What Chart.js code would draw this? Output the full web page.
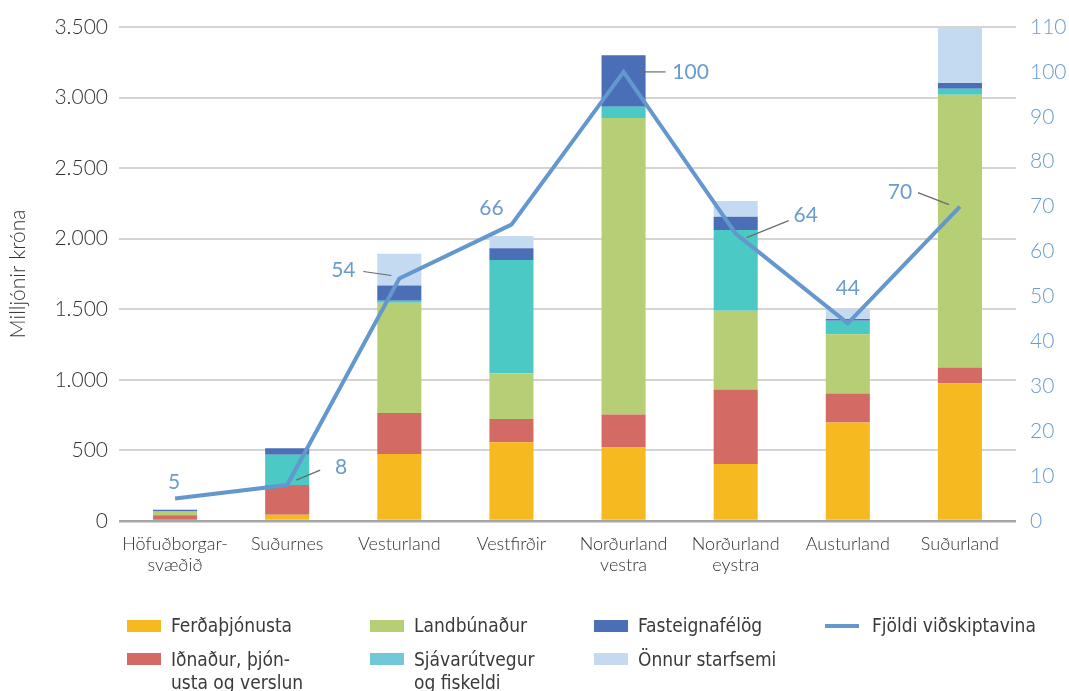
<!DOCTYPE html>
<html>
<head>
<meta charset="utf-8">
<script src="https://cdn.jsdelivr.net/npm/chart.js@4.4.1/dist/chart.umd.min.js"></script>
<style>
  html, body { margin: 0; padding: 0; background: #fff; }
  #wrap { position: relative; width: 1069px; height: 691px; overflow: hidden; }
  canvas { position: absolute; left: 0; top: 0; }
  .lg { position: absolute; font-family: "Liberation Sans Narrow", "DejaVu Sans Condensed", "Roboto", sans-serif; font-size: 19px; color: #3a3a3a; line-height: 23px; white-space: nowrap; }
  .sw { position: absolute; width: 34px; height: 12px; }
  .ln { position: absolute; width: 34px; height: 4px; }
</style>
</head>
<body>
<div id="wrap">
  <canvas id="c" width="1069" height="691"></canvas>
  <div id="legend"></div>
</div>
<script>
// ---- Data ----
const categories = [
  ['Höfuðborgar-', 'svæðið'],
  'Suðurnes',
  'Vesturland',
  'Vestfirðir',
  ['Norðurland', 'vestra'],
  ['Norðurland', 'eystra'],
  'Austurland',
  'Suðurland'
];
const ferdathjonusta = [0, 45, 475, 558, 520, 404, 697, 976];
const idnadur        = [40, 210, 291, 165, 234, 527, 206, 111];
const landbunadur    = [28, 0, 780, 324, 2101, 558, 421, 1933];
const sjavarutvegur  = [0, 215, 14, 803, 80, 572, 94, 43];
const fasteignafelog = [12, 45, 108, 83, 364, 94, 14, 40];
const onnur          = [0, 0, 225, 87, 0, 113, 71, 397];
const fjoldi         = [5, 8, 54, 66, 100, 64, 44, 70];
const leftTicks = [0, 500, 1000, 1500, 2000, 2500, 3000, 3500];
const rightTicks = [0, 10, 20, 30, 40, 50, 60, 70, 80, 90, 100, 110];

// ---- Styles ----
const C = {
  yellow: '#F6B91F', red: '#D36B64', green: '#B7CF74', teal: '#4BC9C5',
  blue: '#4A6FB6', light: '#C4DAF1', line: '#6497CD', blueText: '#6A9BD1'
};
const labelStyle = [
  { dx: -1, dy: -16 },
  { dx: 54, dy: -18, leader: [[9, -5], [33, -15]] },
  { dx: -56, dy: -8, leader: [[-36, -7], [-8, -3]] },
  { dx: -20, dy: -16 },
  { dx: 67, dy: 0, leader: [[16, 0], [42, 0]] },
  { dx: 70, dy: -18, leader: [[11, 4], [53, -13]] },
  { dx: 0, dy: -35 },
  { dx: -60, dy: -14, leader: [[-42, -14], [-11, -2]] }
];
const fontFam = "Lato, 'Open Sans', sans-serif";

const barSets = [
  ['Ferðaþjónusta', ferdathjonusta, C.yellow],
  ['Iðnaður, þjónusta og verslun', idnadur, C.red],
  ['Landbúnaður', landbunadur, C.green],
  ['Sjávarútvegur og fiskeldi', sjavarutvegur, C.teal],
  ['Fasteignafélög', fasteignafelog, C.blue],
  ['Önnur starfsemi', onnur, C.light]
];

const datasets = barSets.map(([label, data, color]) => ({
  type: 'bar', label, data, backgroundColor: color, borderWidth: 0,
  stack: 's', yAxisID: 'y', order: 1,
  categoryPercentage: 1, barPercentage: 0.393
}));
datasets.push({
  type: 'line', label: 'Fjöldi viðskiptavina', data: fjoldi,
  borderColor: C.line, borderWidth: 4, pointRadius: 0, tension: 0,
  yAxisID: 'y1', order: 0, fill: false
});

const labelPlugin = {
  id: 'lineLabels',
  afterDatasetsDraw(chart) {
    const meta = chart.getDatasetMeta(datasets.length - 1);
    const ctx = chart.ctx;
    ctx.save();
    meta.data.forEach((pt, i) => {
      const s = labelStyle[i];
      if (s.leader) {
        ctx.strokeStyle = '#6b6b6b';
        ctx.lineWidth = 1.2;
        ctx.beginPath();
        ctx.moveTo(pt.x + s.leader[0][0], pt.y + s.leader[0][1]);
        ctx.lineTo(pt.x + s.leader[1][0], pt.y + s.leader[1][1]);
        ctx.stroke();
      }
      ctx.fillStyle = C.blueText;
      ctx.font = '400 21px ' + fontFam;
      ctx.textAlign = 'center';
      ctx.textBaseline = 'middle';
      ctx.fillText(String(fjoldi[i]), pt.x + s.dx, pt.y + s.dy);
    });
    ctx.restore();
  }
};

new Chart(document.getElementById('c'), {
  data: { labels: categories, datasets },
  options: {
    responsive: false,
    animation: false,
    layout: { padding: { top: 27, left: 0, right: 0, bottom: 0 } },
    plugins: { legend: { display: false }, tooltip: { enabled: false } },
    scales: {
      x: {
        stacked: true,
        offset: true,
        grid: { display: false, drawTicks: false },
        border: { display: false },
        ticks: { color: '#333', padding: 13, maxRotation: 0, autoSkip: false,
                 font: { family: fontFam, size: 18, weight: '300', lineHeight: 1.17 } },
        afterFit(s) { s.height = 170; }
      },
      y: {
        stacked: true,
        position: 'left',
        min: 0, max: 3500,
        afterBuildTicks(s) { s.ticks = leftTicks.map(v => ({ value: v })); },
        grid: {
          drawTicks: false,
          color: (c) => c.tick && c.tick.value === 0 ? '#A6A6A6' : '#D4D4D4',
          lineWidth: (c) => c.tick && c.tick.value === 0 ? 2.5 : 2
        },
        border: { display: false },
        ticks: {
          color: '#333', padding: 11,
          font: { family: fontFam, size: 21, weight: '300' },
          callback: (v) => v.toLocaleString('de-DE')
        },
        title: { display: true, text: 'Milljónir króna', color: '#333',
                 font: { family: fontFam, size: 21, weight: '300' }, padding: { top: 6, bottom: 0 } },
        afterFit(s) { s.width = 119; }
      },
      y1: {
        position: 'right',
        min: 0, max: 110,
        afterBuildTicks(s) { s.ticks = rightTicks.map(v => ({ value: v })); },
        grid: { display: false, drawTicks: false },
        border: { display: false },
        ticks: { color: C.blueText, padding: 14, font: { family: fontFam, size: 21, weight: '300' } },
        afterFit(s) { s.width = 53; }
      }
    }
  },
  plugins: [labelPlugin]
});

// ---- HTML legend (real text) ----
const legendItems = [
  { kind: 'sw', color: C.yellow, x: 127, y: 620, text: 'Ferðaþjónusta', tx: 171, ty: 614 },
  { kind: 'sw', color: C.green, x: 370, y: 620, text: 'Landbúnaður', tx: 414, ty: 614 },
  { kind: 'sw', color: C.blue, x: 594, y: 620, text: 'Fasteignafélög', tx: 638, ty: 614 },
  { kind: 'ln', color: C.line, x: 825, y: 624, text: 'Fjöldi viðskiptavina', tx: 872, ty: 614 },
  { kind: 'sw', color: C.red, x: 127, y: 653, text: 'Iðnaður, þjón-<br>usta og verslun', tx: 171, ty: 648 },
  { kind: 'sw', color: '#71C8D8', x: 370, y: 653, text: 'Sjávarútvegur<br>og fiskeldi', tx: 414, ty: 648 },
  { kind: 'sw', color: C.light, x: 594, y: 653, text: 'Önnur starfsemi', tx: 638, ty: 648 }
];
const lg = document.getElementById('legend');
legendItems.forEach(it => {
  const s = document.createElement('div');
  s.className = it.kind;
  s.style.left = it.x + 'px'; s.style.top = it.y + 'px'; s.style.background = it.color;
  lg.appendChild(s);
  const t = document.createElement('div');
  t.className = 'lg';
  t.style.left = it.tx + 'px'; t.style.top = it.ty + 'px';
  t.innerHTML = it.text;
  lg.appendChild(t);
});
</script>
</body>
</html>
